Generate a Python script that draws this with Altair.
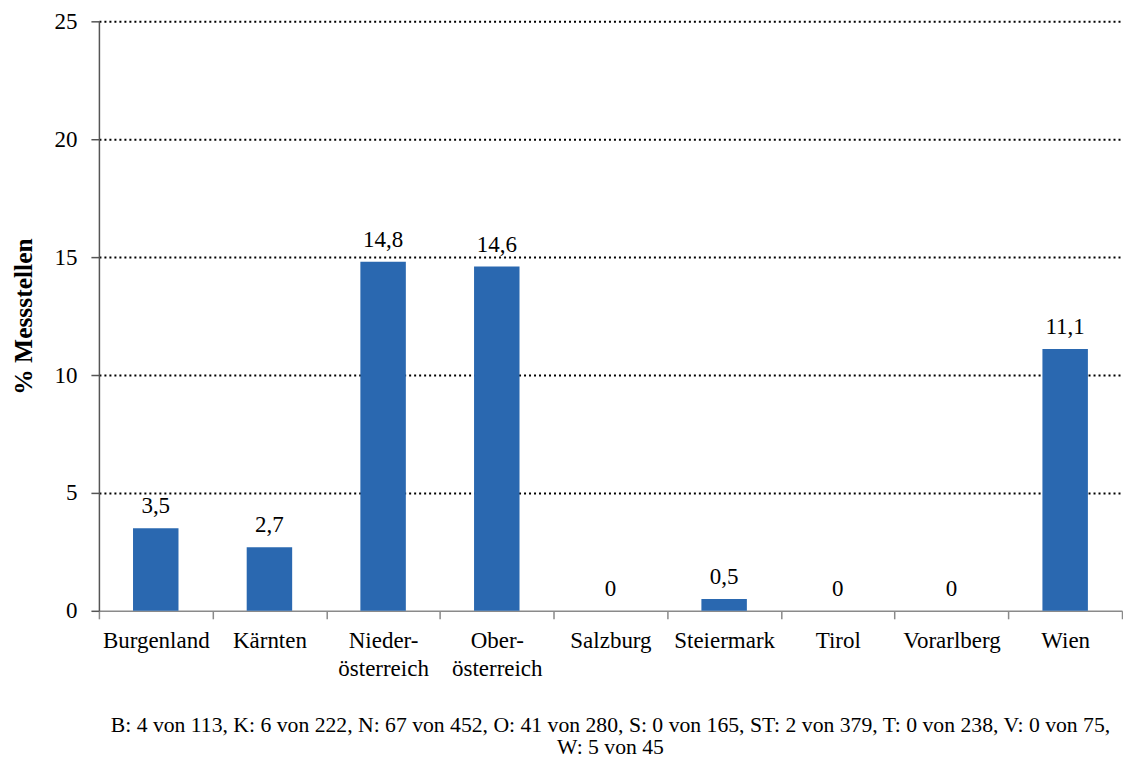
import altair as alt
import pandas as pd

categories = ["Burgenland", "Kärnten", "Nieder-\nösterreich", "Ober-\nösterreich",
              "Salzburg", "Steiermark", "Tirol", "Vorarlberg", "Wien"]
values = [3.5, 2.7, 14.8, 14.6, 0, 0.5, 0, 0, 11.1]
value_labels = ["3,5", "2,7", "14,8", "14,6", "0", "0,5", "0", "0", "11,1"]
y_ticks = [0, 5, 10, 15, 20, 25]
footer_lines = [
    "B: 4 von 113, K: 6 von 222, N: 67 von 452, O: 41  von 280, S: 0 von 165, ST: 2 von 379, T: 0 von 238, V: 0 von 75,",
    "W: 5 von 45",
]

df = pd.DataFrame({"cat": categories, "val": values, "lab": value_labels})

FONT = "Liberation Serif"
BLUE = "#2A68B0"

x_enc = alt.X(
    "cat:N",
    sort=categories,
    scale=alt.Scale(paddingInner=0, paddingOuter=0),
    axis=alt.Axis(
        title=None,
        labelAngle=0,
        labelFont=FONT,
        labelFontSize=23,
        labelColor="black",
        labelPadding=11,
        labelLineHeight=28,
        labelExpr="split(datum.label, '\\n')",
        tickBand="extent",
        tickSize=8,
        tickColor="#8a8a8a",
        domainColor="#8a8a8a",
        domainWidth=1.5,
        tickWidth=1.5,
    ),
)

y_enc = alt.Y(
    "val:Q",
    scale=alt.Scale(domain=[0, 25], nice=False),
    axis=alt.Axis(
        title="% Messstellen",
        titleFont=FONT,
        titleFontSize=25.5,
        titleFontWeight="bold",
        titleColor="black",
        titlePadding=17,
        values=y_ticks,
        labelFont=FONT,
        labelFontSize=23,
        labelColor="black",
        labelPadding=14,
        tickSize=8,
        tickColor="#555555",
        domainColor="#555555",
        domainWidth=1.5,
        tickWidth=1.5,
        grid=True,
        gridColor="black",
        gridDash=[2, 3],
        gridWidth=2,
        gridOpacity={"condition": {"test": "datum.value === 0", "value": 0}, "value": 1},
    ),
)

bars = alt.Chart(df).mark_bar(color=BLUE, width=alt.RelativeBandSize(0.4)).encode(x=x_enc, y=y_enc)
texts = alt.Chart(df).mark_text(
    baseline="bottom", dy=-10, font=FONT, fontSize=23, color="black"
).encode(x=alt.X("cat:N", sort=categories), y="val:Q", text="lab:N")

chart = (
    alt.layer(bars, texts)
    .properties(
        width=1024,
        height=590,
        padding={"left": 4, "top": 2, "right": 0, "bottom": 0},
        title=alt.TitleParams(
            text=footer_lines,
            orient="bottom",
            anchor="middle",
            font=FONT,
            fontSize=21.7,
            fontWeight="normal",
            color="black",
            lineHeight=22,
            offset=34,
        ),
    )
    .configure(font=FONT)
    .configure_view(stroke=None)
)

chart.save("out.html", embed_options={"renderer": "svg", "actions": False})
